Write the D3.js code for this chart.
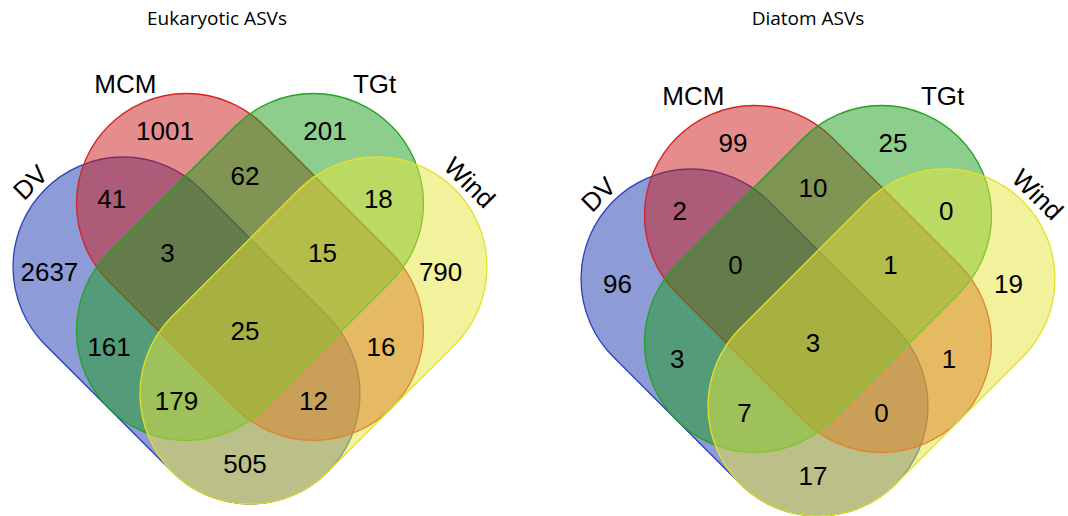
<!DOCTYPE html>
<html>
<head>
<meta charset="utf-8">
<script src="https://cdn.jsdelivr.net/npm/d3@7"></script>
<style>
  html, body { margin: 0; padding: 0; background: #fff; }
  svg { display: block; }
  .title { font-family: "Open Sans", "Noto Sans", sans-serif; font-size: 19px; fill: #000; }
  .set-name { font-family: "Liberation Sans", Arial, sans-serif; font-size: 26px; fill: #000; }
  .count { font-family: "Liberation Sans", Arial, sans-serif; font-size: 26px; fill: #000; }
</style>
</head>
<body>
<svg id="chart" width="1068" height="516"></svg>
<script>
// sets and their region counts (order of regions below)
var sets = ["DV", "MCM", "TGt", "Wind"];
var regions = [
  "DV", "MCM", "TGt", "Wind",
  "DV&MCM", "DV&TGt", "DV&Wind", "MCM&TGt", "MCM&Wind", "TGt&Wind",
  "DV&MCM&TGt", "DV&MCM&Wind", "DV&TGt&Wind", "MCM&TGt&Wind",
  "DV&MCM&TGt&Wind"
];
var eukaryoticCounts = [2637, 1001, 201, 790, 41, 161, 505, 62, 16, 18, 3, 12, 179, 15, 25];
var diatomCounts = [96, 99, 25, 19, 2, 3, 17, 10, 1, 0, 0, 0, 7, 1, 3];
var titles = ["Eukaryotic ASVs", "Diatom ASVs"];

// shape geometry, in diagram units: each set is a capsule along a 45 degree axis
var axes = [
  [[-2, 0], [0, 2]],
  [[-1, -1], [1, 1]],
  [[1, -1], [-1, 1]],
  [[2, 0], [0, 2]]
];
var radius = Math.sqrt(3);
var colors = ["#1c38ad", "#cc1c1c", "#1c9e1c", "#e8e63a"];
var strokes = ["#2a40b8", "#d42222", "#22a322", "#e4e02a"];
// where the set name sits: offset (units, degrees) from the capsule's upper end
var nameSpots = [
  { dist: 1.98, angle: -137.6, rot: -45 },
  { dist: 2.12, angle: -117, rot: 0 },
  { dist: 2.12, angle: -63, rot: 0 },
  { dist: 1.98, angle: -42.4, rot: 45 }
];

var panels = [
  { cx: 250, cy: 267, titleX: 217, counts: eukaryoticCounts, title: titles[0] },
  { cx: 818, cy: 279, titleX: 808, counts: diatomCounts, title: titles[1] }
];
var unit = 63.5;

function segDist(p, s) {
  var ax = s[0][0], ay = s[0][1], bx = s[1][0], by = s[1][1];
  var dx = bx - ax, dy = by - ay;
  var t = ((p[0] - ax) * dx + (p[1] - ay) * dy) / (dx * dx + dy * dy);
  t = Math.max(0, Math.min(1, t));
  var qx = ax + t * dx - p[0], qy = ay + t * dy - p[1];
  return Math.sqrt(qx * qx + qy * qy) - radius;
}

// sample the diagram once: region key and distance to the nearest outline
var samples = [];
for (var sx = -4.2; sx <= 4.2; sx += 0.02) {
  for (var sy = -3.4; sy <= 4.2; sy += 0.02) {
    var mask = [], m = Infinity;
    for (var i = 0; i < 4; i++) {
      var d = segDist([sx, sy], axes[i]);
      if (d < 0) mask.push(sets[i]);
      m = Math.min(m, Math.abs(d));
    }
    if (mask.length) samples.push({ key: mask.join("&"), x: sx, y: sy, c: m });
  }
}

// label point: the most central spot among those well clear of the outlines
var spots = {};
d3.groups(samples, function(s) { return s.key; }).forEach(function(grp) {
  var pts = grp[1];
  var cx = d3.mean(pts, function(s) { return s.x; }), cy = d3.mean(pts, function(s) { return s.y; });
  var cmax = d3.max(pts, function(s) { return s.c; });
  var best = d3.least(pts.filter(function(s) { return s.c >= 0.88 * cmax; }), function(s) {
    return (s.x - cx) * (s.x - cx) + (s.y - cy) * (s.y - cy);
  });
  spots[grp[0]] = [best.x, best.y];
});

var svg = d3.select("#chart");

panels.forEach(function(pn) {
  var x = d3.scaleLinear().domain([0, 1]).range([pn.cx, pn.cx + unit]);
  var y = d3.scaleLinear().domain([0, 1]).range([pn.cy, pn.cy + unit]);
  var g = svg.append("g");

  svg.append("text").attr("class", "title")
    .attr("x", pn.titleX).attr("y", 25)
    .attr("text-anchor", "middle")
    .text(pn.title);

  g.selectAll("rect.set").data(axes).enter().append("rect")
    .attr("class", "set")
    .each(function(s, i) {
      var dx = s[1][0] - s[0][0], dy = s[1][1] - s[0][1];
      var len = Math.sqrt(dx * dx + dy * dy);
      var mx = (s[0][0] + s[1][0]) / 2, my = (s[0][1] + s[1][1]) / 2;
      var w = x(len + 2 * radius) - x(0), h = y(2 * radius) - y(0);
      var ang = Math.atan2(dy, dx) * 180 / Math.PI;
      d3.select(this)
        .attr("x", -w / 2).attr("y", -h / 2)
        .attr("width", w).attr("height", h)
        .attr("rx", h / 2).attr("ry", h / 2)
        .attr("transform", "translate(" + x(mx) + "," + y(my) + ") rotate(" + ang + ")")
        .style("fill", colors[i]).style("fill-opacity", 0.5)
        .style("stroke", strokes[i]).style("stroke-width", 1.3);
    });

  g.selectAll("text.set-name").data(sets).enter().append("text")
    .attr("class", "set-name")
    .attr("text-anchor", "middle")
    .attr("dy", "0.36em")
    .attr("transform", function(d, i) {
      var a = nameSpots[i].angle * Math.PI / 180;
      var px = axes[i][0][0] + nameSpots[i].dist * Math.cos(a);
      var py = axes[i][0][1] + nameSpots[i].dist * Math.sin(a);
      return "translate(" + x(px) + "," + y(py) + ") rotate(" + nameSpots[i].rot + ")";
    })
    .text(function(d) { return d; });

  g.selectAll("text.count").data(regions).enter().append("text")
    .attr("class", "count")
    .attr("text-anchor", "middle")
    .attr("dx", -5)
    .attr("dy", "0.36em")
    .attr("x", function(d) { return x(spots[d][0]); })
    .attr("y", function(d) { return y(spots[d][1]); })
    .text(function(d, i) { return pn.counts[i]; });
});
</script>
</body>
</html>
